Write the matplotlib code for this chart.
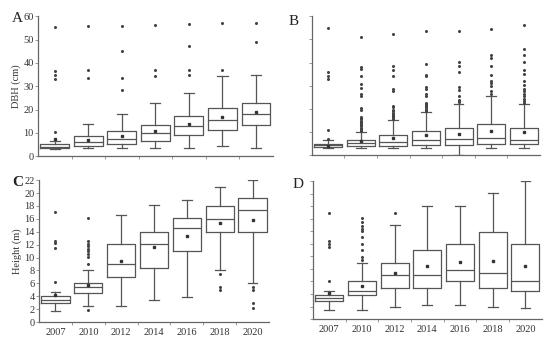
import matplotlib.pyplot as plt
import numpy as np

plt.rcParams['font.family'] = ['Liberation Serif', 'DejaVu Serif']

years = ['2007', '2010', '2012', '2014', '2016', '2018', '2020']

# panel A - DBH (cm)
a_q1 = [3.5, 4.3, 5.0, 6.6, 9.0, 11.1, 13.3]
a_med = [4.0, 6.1, 7.3, 10.0, 12.9, 15.4, 17.9]
a_q3 = [5.0, 8.6, 10.9, 13.3, 17.3, 20.7, 23.0]
a_lo = [3.2, 3.6, 3.6, 3.6, 3.6, 4.3, 3.6]
a_hi = [6.6, 13.7, 17.9, 22.9, 27.1, 34.3, 35.0]
a_mean = [7.4, 6.9, 8.6, 10.7, 14.0, 16.9, 18.9]
a_out = [[55.5, 36.6, 34.6, 33.2, 10.5],
         [55.7, 37.1, 33.3],
         [56.0, 45.1, 33.7, 28.3],
         [56.3, 37.1, 34.3],
         [56.7, 47.3, 37.1, 35.0],
         [57.2, 37.1],
         [57.0, 49.0]]

# panel B - DBH (cm), other group
b_q1 = [3.6, 4.0, 4.0, 4.4, 4.4, 4.7, 4.7]
b_med = [4.3, 5.1, 5.7, 6.6, 6.9, 7.6, 6.6]
b_q3 = [5.0, 6.6, 8.6, 10.4, 11.9, 13.6, 11.9]
b_lo = [3.3, 3.3, 3.3, 3.3, 0.0, 3.3, 3.3]
b_hi = [6.4, 10.1, 15.0, 18.7, 22.1, 25.4, 21.9]
b_mean = [4.0, 6.1, 7.6, 8.7, 9.3, 10.4, 10.0]
b_out = [[54.7, 36.1, 34.3, 32.9, 10.7, 7.1],
         [51.1, 37.9, 37.1, 34.3, 30.7, 29.0, 26.4, 25.7, 20.4, 19.3,
          16.4, 15.9, 15.4, 14.9, 14.4, 13.9, 13.4, 12.9, 12.4, 11.9, 11.4, 10.9, 10.5],
         [52.3, 38.6, 36.9, 34.3, 28.6, 27.6, 21.4, 20.7, 19.7, 19.0,
          18.3, 17.8, 17.3, 16.8, 16.3, 15.8, 15.4],
         [53.7, 39.3, 34.7, 34.3, 29.4, 28.6, 26.4, 25.4,
          22.6, 22.1, 21.6, 21.1, 20.6, 20.1, 19.6, 19.1],
         [53.7, 40.4, 38.6, 35.9, 29.4, 28.0, 25.6, 24.0, 23.3, 22.8],
         [54.3, 43.3, 41.9, 38.3, 34.7, 31.9, 31.1, 29.9, 27.6, 26.4],
         [56.1, 45.9, 43.3, 40.4, 36.9, 35.1, 32.1, 30.4, 28.6, 27.6,
          26.4, 25.4, 24.3, 23.3, 22.6]]

# panel C - Height (m)
c_q1 = [2.94, 4.5, 7.06, 8.45, 11.0, 14.0, 14.0]
c_med = [3.45, 5.5, 9.0, 12.06, 14.6, 16.0, 17.3]
c_q3 = [3.97, 6.0, 12.06, 14.0, 16.1, 18.0, 19.3]
c_lo = [1.65, 2.5, 2.5, 3.35, 3.95, 8.0, 6.0]
c_hi = [4.6, 8.0, 16.6, 18.1, 19.0, 21.0, 22.0]
c_mean = [4.2, 5.7, 9.4, 11.6, 13.4, 15.4, 15.9]
c_out = [[17.1, 12.6, 12.2, 11.5, 6.2],
         [16.2, 12.5, 12.1, 11.8, 11.4, 11.0, 10.5, 10.1, 9.0, 1.9],
         [], [], [],
         [7.4, 5.5, 4.9],
         [5.5, 5.0, 3.0, 2.2]]

# panel D - Height (m), other group
d_q1 = [2.9, 3.9, 5.0, 5.0, 6.0, 5.0, 4.5]
d_med = [3.4, 4.4, 7.0, 7.0, 7.9, 7.4, 6.0]
d_q3 = [3.8, 6.0, 9.0, 11.0, 12.0, 13.9, 12.0]
d_lo = [1.5, 1.4, 1.9, 2.3, 2.3, 2.0, 1.7]
d_hi = [4.5, 9.0, 15.0, 18.0, 18.0, 20.1, 22.0]
d_mean = [4.1, 5.3, 7.4, 8.4, 9.1, 9.3, 8.4]
d_out = [[17.0, 12.4, 12.0, 11.5, 6.0],
         [16.1, 15.5, 14.9, 14.3, 14.0, 13.1, 12.0, 11.0, 9.9, 9.4],
         [17.0], [], [], [], []]

col = '#555555'


def make_stats(q1, med, q3, lo, hi, mean, out):
    stats = []
    for i in range(len(years)):
        stats.append(dict(q1=q1[i], med=med[i], q3=q3[i], whislo=lo[i],
                          whishi=hi[i], mean=mean[i], fliers=out[i]))
    return stats


def draw_panel(ax, stats, ymax, yticks, show_y, show_x):
    pos = np.arange(1, len(years) + 1)
    ax.bxp(stats, positions=pos, widths=0.86, showmeans=True,
           boxprops=dict(color=col, linewidth=0.9),
           medianprops=dict(color=col, linewidth=0.9),
           whiskerprops=dict(color=col, linewidth=0.9),
           capprops=dict(color=col, linewidth=0.9),
           capwidths=0.3,
           meanprops=dict(marker='s', markersize=1.6, markerfacecolor='#333333',
                          markeredgecolor='#333333'),
           flierprops=dict(marker='o', markersize=1.2, markerfacecolor='#444444',
                           markeredgecolor='#444444'))
    ax.set_xlim(0.5, len(years) + 0.5)
    ax.set_ylim(0, ymax)
    for s in ['top', 'right']:
        ax.spines[s].set_visible(False)
    for s in ['left', 'bottom']:
        ax.spines[s].set_color('#666666')
        ax.spines[s].set_linewidth(0.9)
    ax.set_yticks(yticks)
    ax.tick_params(axis='y', length=2, width=0.6, color='#888888', labelsize=7.5,
                   pad=1, labelcolor='#333333')
    if not show_y:
        ax.set_yticklabels([])
    ax.set_xticks(pos)
    ax.set_xticks(pos[:-1] + 0.5, minor=True)
    ax.tick_params(axis='x', which='major', length=0, labelsize=7.5, pad=4,
                   labelcolor='#333333')
    ax.tick_params(axis='x', which='minor', length=2, width=0.6, color='#888888')
    if show_x:
        ax.set_xticklabels(years)
    else:
        ax.set_xticklabels([])


fig = plt.figure(figsize=(5.5, 3.38), dpi=100)
axA = fig.add_axes([0.069, 0.538, 0.427, 0.414])
axB = fig.add_axes([0.567, 0.541, 0.415, 0.411])
axC = fig.add_axes([0.071, 0.047, 0.418, 0.420])
axD = fig.add_axes([0.569, 0.056, 0.416, 0.408])

draw_panel(axA, make_stats(a_q1, a_med, a_q3, a_lo, a_hi, a_mean, a_out),
           60, range(0, 61, 10), True, False)
draw_panel(axB, make_stats(b_q1, b_med, b_q3, b_lo, b_hi, b_mean, b_out),
           60, range(0, 61, 10), False, False)
draw_panel(axC, make_stats(c_q1, c_med, c_q3, c_lo, c_hi, c_mean, c_out),
           22, range(0, 23, 2), True, True)
draw_panel(axD, make_stats(d_q1, d_med, d_q3, d_lo, d_hi, d_mean, d_out),
           22, range(0, 23, 2), False, True)

axA.set_ylabel('DBH (cm)', fontsize=7.5, labelpad=2, color='#333333')
axC.set_ylabel('Height (m)', fontsize=7.5, labelpad=2, color='#333333')

fig.text(0.022, 0.965, 'A', fontsize=11, va='top', ha='left', color='#222222')
fig.text(0.525, 0.955, 'B', fontsize=11, va='top', ha='left', color='#222222')
fig.text(0.022, 0.478, 'C', fontsize=11, va='top', ha='left', fontweight='bold', color='#222222')
fig.text(0.531, 0.472, 'D', fontsize=11, va='top', ha='left', color='#222222')

fig.savefig('out.png', dpi=100)
